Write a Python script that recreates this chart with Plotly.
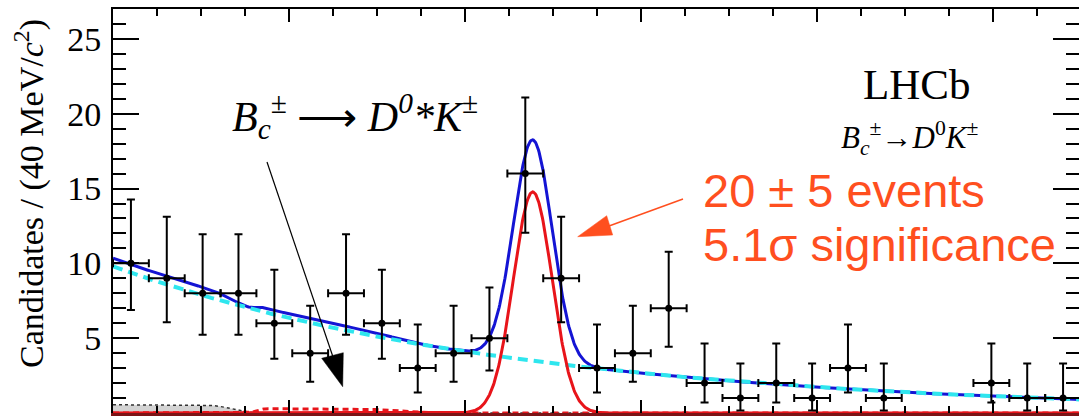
import math
import numpy as np
import plotly.graph_objects as go

# ---- binning of the D0 K invariant-mass spectrum ----
mass_lo, mass_hi, n_bins = 5800.0, 6900.0, 27

# candidates per bin and asymmetric (Poisson) uncertainties
counts = [10, 9, 8, 8, 6, 4, 8, 6, 3, 4, 5, 16, 9, 3, 4, 7, 2, 1, 2, 1, 3, 1, 0, 0, 2, 1, 1]
err_lo = [3.11, 2.94, 2.77, 2.77, 2.38, 1.91, 2.77, 2.38, 1.63, 1.91, 2.16, 3.95, 2.94, 1.63,
          1.91, 2.58, 1.29, 0.83, 1.29, 0.83, 1.63, 0.83, 0.0, 0.0, 1.29, 0.83, 0.83]
err_hi = [4.27, 4.11, 3.95, 3.95, 3.58, 3.16, 3.95, 3.58, 2.92, 3.16, 3.38, 5.08, 4.11, 2.92,
          3.16, 3.77, 2.64, 2.30, 2.64, 2.30, 2.92, 2.30, 0.0, 0.0, 2.64, 2.30, 2.30]

# ---- fit model parameters ----
sig_yield, sig_mean, sig_sigma = 20.0, 6277.0, 22.0       # Bc -> D0 K signal
bkg_norm, bkg_slope = 9.8, 0.00217                       # combinatorial (exponential)
prc_height, prc_lo, prc_hi, prc_s1, prc_s2 = 0.28, 5962.0, 6120.0, 5.0, 22.0  # Bc -> D0* K
oth_height, oth_edge, oth_s = 0.55, 5935.0, 15.0          # other low-mass component

# ---- canvas geometry ----
W, H = 1079, 416
M_L, M_R, M_T, M_B = 113, 0, 9, 3
px_per_mev = 0.88
x_range = [mass_lo, mass_lo + (W - M_L - M_R) / px_per_mev]
y_range = [0.0, 27.0]


def fx(px):
    return x_range[0] + (px - M_L) / (W - M_L - M_R) * (x_range[1] - x_range[0])


def fy(py):
    return y_range[0] + (H - M_B - py) / (H - M_T - M_B) * (y_range[1] - y_range[0])


def paper_x(px):
    return (px - M_L) / (W - M_L - M_R)


def paper_y(py):
    return (H - M_B - py) / (H - M_T - M_B)


bin_w = (mass_hi - mass_lo) / n_bins
centres = mass_lo + bin_w * (np.arange(n_bins) + 0.5)

verf = np.vectorize(math.erf)
m = np.linspace(mass_lo, mass_hi, 1500)
signal = sig_yield * bin_w / (math.sqrt(2 * math.pi) * sig_sigma) * np.exp(-0.5 * ((m - sig_mean) / sig_sigma) ** 2)
background = bkg_norm * np.exp(-bkg_slope * (m - mass_lo))
partreco = prc_height * 0.5 * (1 + verf((m - prc_lo) / (math.sqrt(2) * prc_s1))) * \
    0.5 * (1 - verf((m - prc_hi) / (math.sqrt(2) * prc_s2)))
other = oth_height * 0.5 * (1 - verf((m - oth_edge) / (math.sqrt(2) * oth_s)))
total = signal + background + partreco + other

BLUE = "#1414d4"
CYAN = "#2ee6ee"
RED = "#e8141a"
ORANGE = "#ff4f1f"
SERIF = "Liberation Serif"
SANS = "Liberation Sans"

fig = go.Figure()

# other low-mass component: shaded with dotted outline
fig.add_trace(go.Scatter(x=m, y=other, mode="lines", fill="tozeroy",
                         fillcolor="rgba(200,200,200,0.8)",
                         line=dict(color="#333333", width=1.5, dash="dot"),
                         hoverinfo="skip", showlegend=False))
# partially reconstructed Bc -> D0* K
fig.add_trace(go.Scatter(x=m, y=partreco, mode="lines",
                         line=dict(color=RED, width=3, dash="6px,4px"),
                         hoverinfo="skip", showlegend=False))
# total fit
fig.add_trace(go.Scatter(x=m, y=total, mode="lines", line=dict(color=BLUE, width=3),
                         hoverinfo="skip", showlegend=False))
# combinatorial background
fig.add_trace(go.Scatter(x=m, y=background, mode="lines",
                         line=dict(color=CYAN, width=4, dash="10px,6px"),
                         hoverinfo="skip", showlegend=False))
# signal
fig.add_trace(go.Scatter(x=m, y=signal, mode="lines", line=dict(color=RED, width=3),
                         hoverinfo="skip", showlegend=False))

# data points (empty bins are not drawn)
keep = [i for i, c in enumerate(counts) if c > 0]
fig.add_trace(go.Scatter(
    x=[centres[i] for i in keep], y=[counts[i] for i in keep], mode="markers",
    marker=dict(color="black", size=7),
    error_y=dict(type="data", symmetric=False, array=[err_hi[i] for i in keep],
                 arrayminus=[err_lo[i] for i in keep], color="black", thickness=2, width=4),
    error_x=dict(type="constant", value=bin_w / 2, color="black", thickness=2, width=4),
    cliponaxis=False, hoverinfo="skip", showlegend=False))

# mirrored frame axes (top / right)
fig.add_trace(go.Scatter(x=[None], y=[None], xaxis="x2", yaxis="y2",
                         hoverinfo="skip", showlegend=False))

x_major = list(range(5800, 6900, 200))
x_minor = [v for v in range(5850, 6900, 50) if v % 200 != 0]
y_major = [5, 10, 15, 20, 25]
y_minor = [v for v in range(1, 27) if v % 5 != 0]

xaxis_common = dict(range=x_range, showgrid=False, zeroline=False, showticklabels=False,
                    ticks="inside", ticklen=13, tickwidth=1.8, tickcolor="black",
                    tickmode="array", tickvals=x_major,
                    minor=dict(tickmode="array", tickvals=x_minor, ticks="inside",
                               ticklen=7, tickwidth=1.8, tickcolor="black"))
yaxis_common = dict(range=y_range, showgrid=False, zeroline=False,
                    ticks="inside", ticklen=26, tickwidth=1.8, tickcolor="black",
                    tickmode="array", tickvals=y_major,
                    minor=dict(tickmode="array", tickvals=y_minor, ticks="inside",
                               ticklen=13, tickwidth=1.8, tickcolor="black"))

fig.update_layout(
    width=W, height=H, autosize=False,
    margin=dict(l=M_L, r=M_R, t=M_T, b=M_B, pad=0),
    paper_bgcolor="white", plot_bgcolor="white",
    xaxis=dict(**xaxis_common, showline=True, linecolor="#7c1416", linewidth=3),
    xaxis2=dict(**xaxis_common, overlaying="x", side="top", anchor="y2",
                showline=True, linecolor="black", linewidth=2),
    yaxis=dict(**yaxis_common, showline=True, linecolor="black", linewidth=2,
               showticklabels=True, ticklabelstandoff=3,
               tickfont=dict(family=SERIF, size=34, color="black")),
    yaxis2=dict(**yaxis_common, overlaying="y", side="right", anchor="x2",
                showline=False, showticklabels=False),
)

# axis title
fig.add_annotation(xref="paper", yref="paper", x=paper_x(30), y=paper_y(194),
                   text="Candidates / (40 MeV/<i>c</i><sup>2</sup>)", textangle=-90,
                   showarrow=False, xanchor="center", yanchor="middle",
                   font=dict(family=SERIF, size=34, color="black"))

# experiment / decay labels
fig.add_annotation(x=fx(917), y=fy(84), text="LHCb", showarrow=False,
                   xanchor="center", yanchor="middle",
                   font=dict(family=SERIF, size=43, color="black"))
fig.add_annotation(x=fx(909), y=fy(138),
                   text="<i>B</i><sub><i>c</i></sub><sup>±</sup>→<i>D</i><sup>0</sup><i>K</i><sup>±</sup>",
                   showarrow=False, xanchor="center", yanchor="middle",
                   font=dict(family=SERIF, size=31, color="black"))

# partially reconstructed component label and its arrow
fig.add_annotation(x=fx(230), y=fy(116),
                   text="<i>B</i><sub><i>c</i></sub><sup>±</sup> ⟶ <i>D</i><sup><i>0</i></sup><i>*K</i><sup>±</sup>",
                   showarrow=False, xanchor="left", yanchor="middle",
                   font=dict(family=SERIF, size=42, color="black"))
fig.add_shape(type="line", x0=fx(267), y0=fy(162), x1=fx(333), y1=fy(357),
              line=dict(color="black", width=1.2))
fig.add_shape(type="path",
              path=f"M {fx(342.7)} {fy(386.7)} L {fx(321.7)} {fy(358.3)} L {fx(343.3)} {fy(352.7)} Z",
              fillcolor="black", line=dict(color="black", width=0.5))

# signal yield labels and arrow
fig.add_annotation(x=fx(701), y=fy(190), text="20 ± 5 events", showarrow=False,
                   xanchor="left", yanchor="middle",
                   font=dict(family=SANS, size=47, color=ORANGE))
fig.add_annotation(x=fx(701), y=fy(244), text="5.1σ significance", showarrow=False,
                   xanchor="left", yanchor="middle",
                   font=dict(family=SANS, size=47, color=ORANGE))
fig.add_shape(type="line", x0=fx(683), y0=fy(199), x1=fx(609), y1=fy(226),
              line=dict(color=ORANGE, width=1.5))
fig.add_shape(type="path",
              path=f"M {fx(577.7)} {fy(236.7)} L {fx(606.7)} {fy(215.7)} L {fx(612.7)} {fy(235)} Z",
              fillcolor=ORANGE, line=dict(color=ORANGE, width=0.5))

fig.write_html("out.html")
